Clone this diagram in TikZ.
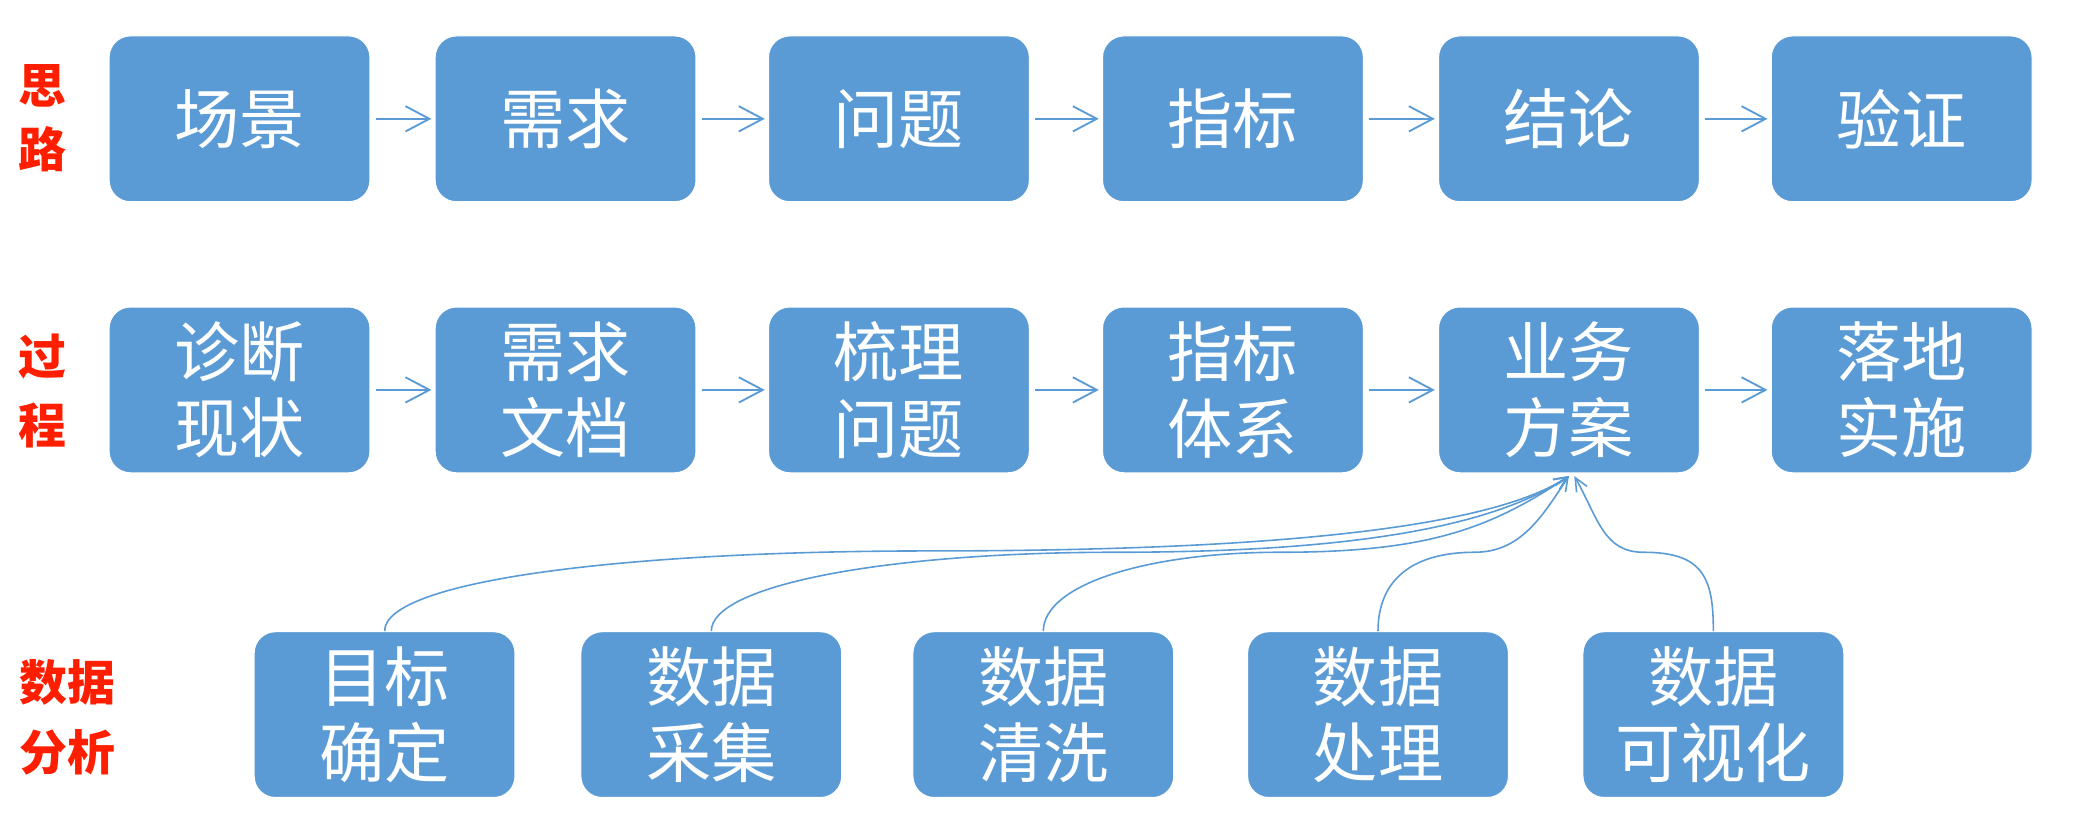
\documentclass[tikz,border=0pt]{standalone}
\usepackage{fontspec}
\setmainfont{Noto Sans CJK SC}
\usetikzlibrary{arrows.meta}
\definecolor{boxblue}{RGB}{91,155,213}
\definecolor{labelred}{RGB}{255,30,0}
\tikzset{
  box/.style={draw=white, fill=boxblue, rounded corners=8pt, minimum width=98pt, minimum height=62.3pt,
    inner sep=0pt, text=white, align=center, font=\fontsize{24.5}{28.75}\selectfont},
  rowlabel/.style={text=labelred, align=center, font=\fontsize{18}{26}\bfseries\selectfont},
  flow/.style={draw=boxblue, line width=0.7pt, shorten <=2pt, shorten >=1.2pt,
    -{Straight Barb[length=9pt,width=9.5pt]}},
  feed/.style={draw=boxblue, line width=0.6pt, -{Straight Barb[length=5pt,width=4.5pt]}}
}

\begin{document}
\begin{tikzpicture}[x=0.5pt,y=-0.5pt]
\useasboundingbox (0,0) rectangle (1560,619);
% row labels
\node[rowlabel, font=\fontsize{18}{24}\bfseries\selectfont] (thinking) at (32,89) {思\\路};
\node[rowlabel] (process) at (32,294) {过\\程};
\node[rowlabel] (analysis) at (51,539) {数据\\分析};
% boxes
\foreach \txt/\x [count=\i] in {场景/180, 需求/425, 问题/675.5, 指标/926.5, 结论/1179, 验证/1429}
  \node[box] (idea\i) at (\x,89.3) {\txt};
\foreach \txt/\x [count=\i] in {诊断\\现状/180, 需求\\文档/425, 梳理\\问题/675.5, 指标\\体系/926.5, 业务\\方案/1179, 落地\\实施/1429}
  \node[box] (proc\i) at (\x,293) {\txt};
\foreach \txt/\x [count=\i] in {目标\\确定/289, 数据\\采集/534.5, 数据\\清洗/784, 数据\\处理/1035.5, 数据\\可视化/1287.5}
  \node[box] (data\i) at (\x,537) {\txt};
% arrows
\foreach \i/\j in {1/2, 2/3, 3/4, 4/5, 5/6} {
  \draw[flow] (idea\i) -- (idea\j);
  \draw[flow] (proc\i) -- (proc\j);
}
% where the curves run level
\coordinate (join1) at (699,414);
\coordinate (join2) at (838,415);
\coordinate (join3) at (962,415);
\coordinate (join4) at (1108,415);
\coordinate (join5) at (1235,415);
\draw[feed] (data1.north) .. controls +(0,-38) and +(-230,0) .. (join1)
  .. controls +(250,0) and +(-60,40) .. ([yshift=-1pt]proc5.south);
\draw[feed] (data2.north) .. controls +(0,-35) and +(-170,0) .. (join2)
  .. controls +(170,0) and +(-60,40) .. ([yshift=-1pt]proc5.south);
\draw[feed] (data3.north) .. controls +(0,-35) and +(-100,0) .. (join3)
  .. controls +(110,0) and +(-60,40) .. ([yshift=-1pt]proc5.south);
\draw[feed] (data4.north) .. controls +(0,-40) and +(-45,0) .. (join4)
  .. controls +(35,0) and +(-20,30) .. ([yshift=-1pt]proc5.south);
\draw[feed] (data5.north) .. controls +(0,-40) and +(45,0) .. (join5)
  .. controls +(-30,0) and +(18,32) .. ([xshift=2pt,yshift=-1pt]proc5.south);
\end{tikzpicture}
\end{document}
